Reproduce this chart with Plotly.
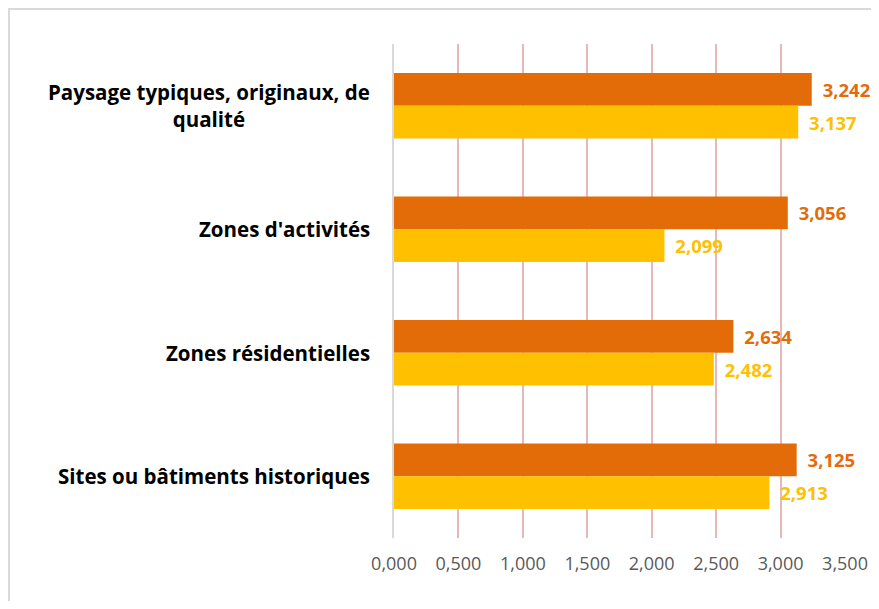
import plotly.graph_objects as go

categories = ["Paysage typiques, originaux, de<br>qualité", "Zones d'activités",
              "Zones résidentielles", "Sites ou bâtiments historiques"]
series_orange = [3.242, 3.056, 2.634, 3.125]
series_yellow = [3.137, 2.099, 2.482, 2.913]
tick_vals = [0, 0.5, 1.0, 1.5, 2.0, 2.5, 3.0, 3.5]

ORANGE = "#E36C09"
YELLOW = "#FFC000"
FONT = "Open Sans"

# page body has an 8px margin; figure placed at (8, 8)
W, H = 871, 593
ML, MR, MT, MB = 386, 34, 36, 63
PW, PH = W - ML - MR, H - MT - MB

fig = go.Figure()
for vals, col in [(series_orange, ORANGE), (series_yellow, YELLOW)]:
    fig.add_trace(go.Bar(
        y=categories, x=vals, orientation="h",
        marker=dict(color=col, line=dict(width=0)),
        texttemplate="\u00a0\u2009%{x:.3f}", textposition="outside",
        textfont=dict(family=FONT, size=18.5, color=col, weight="bold"),
        cliponaxis=False, showlegend=False,
    ))

for c in categories:
    fig.add_annotation(
        x=0, xref="paper", y=c, yref="y", xanchor="right", xshift=-22,
        text=c, showarrow=False, align="center",
        font=dict(family=FONT, size=20.5, color="#000000", weight="bold"),
    )

# outer chart frame
fig.add_shape(type="rect", xref="paper", yref="paper",
              x0=(1 - ML) / PW, x1=1 + (MR + 20) / PW,
              y0=-(MB + 20) / PH, y1=1 + (MT - 1) / PH,
              line=dict(color="#D9D9D9", width=2), layer="below")

fig.update_layout(
    width=W, height=H,
    margin=dict(l=ML, r=MR, t=MT, b=MB, pad=0),
    paper_bgcolor="white", plot_bgcolor="white",
    barmode="group", bargap=0.47, bargroupgap=0,
    separators=", ",
)
fig.update_xaxes(
    range=[0, 3.5], tickvals=tick_vals, tickformat=".3f",
    showgrid=True, gridcolor="#E6B9B8", gridwidth=1.5,
    zeroline=False, showline=False, ticks="",
    ticklabelstandoff=13,
    tickfont=dict(family=FONT, size=18, color="#595959"),
)
fig.update_yaxes(
    autorange="reversed", showticklabels=False, ticks="",
    showline=True, linecolor="#D9D9D9", linewidth=2, showgrid=False,
)

fig.write_html("out.html")
